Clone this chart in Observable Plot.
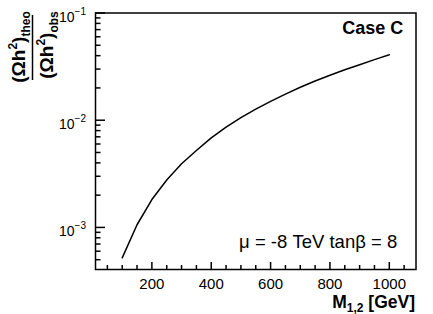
<!DOCTYPE html>
<html>
<head>
<meta charset="utf-8">
<script src="https://cdn.jsdelivr.net/npm/d3@7"></script>
<script src="https://cdn.jsdelivr.net/npm/@observablehq/plot@0.6"></script>
<style>
  html, body { margin: 0; padding: 0; background: #fff; }
  #chart svg { display: block; font-family: "Liberation Sans", Arial, Helvetica, sans-serif; }
</style>
</head>
<body>
<div id="chart"></div>
<script>
// Data
const massValues = [100, 150, 200, 250, 300, 350, 400, 450, 500, 550, 600, 650, 700, 750, 800, 850, 900, 950, 1000];
const ratioValues = [5.20e-4, 1.059e-3, 1.82e-3, 2.77e-3, 3.92e-3, 5.21e-3, 6.84e-3, 8.61e-3, 1.059e-2, 1.268e-2, 1.496e-2, 1.750e-2, 2.028e-2, 2.323e-2, 2.630e-2, 2.951e-2, 3.296e-2, 3.673e-2, 4.083e-2];

const xMajorTicks = [200, 400, 600, 800, 1000];
const xMinorTicks = [50, 100, 150, 250, 300, 350, 450, 500, 550, 650, 700, 750, 850, 900, 950, 1050];
const yExponents = [-3, -2, -1];
const yMajorTicks = yExponents.map(e => 10 ** e);
const yMinorTicks = [5e-4, 6e-4, 7e-4, 8e-4, 9e-4, 2e-3, 3e-3, 4e-3, 5e-3, 6e-3, 7e-3, 8e-3, 9e-3, 2e-2, 3e-2, 4e-2, 5e-2, 6e-2, 7e-2, 8e-2, 9e-2];

const xDomain = [10, 1090];
const yDomain = [4.05e-4, 0.1];

const caseLabel = "Case C";
const paramLabel = "μ = -8 TeV tanβ = 8";

const data = massValues.map((m, i) => ({m, r: ratioValues[i]}));

const W = 433, H = 314, mT = 12.5, mB = 45, mL = 95, mR = 17.5;
const frameW = W - mL - mR, frameH = H - mT - mB;

// tick lengths (pixels) converted to domain extents
const xPerPx = (xDomain[1] - xDomain[0]) / frameW;
const yDecPerPx = Math.log10(yDomain[1] / yDomain[0]) / frameH;
const xAt = px => xDomain[0] + px * xPerPx;
const yAt = px => yDomain[0] * 10 ** (px * yDecPerPx);

const plot = Plot.plot({
  width: W,
  height: H,
  marginTop: mT,
  marginBottom: mB,
  marginLeft: mL,
  marginRight: mR,
  style: {background: "#fff", fontFamily: "Liberation Sans, Arial, Helvetica, sans-serif"},
  x: {domain: xDomain, axis: null, label: null},
  y: {type: "log", domain: yDomain, axis: null, label: null},
  marks: [
    Plot.line(data, {x: "m", y: "r", stroke: "black", strokeWidth: 1.5}),
    Plot.frame({stroke: "black", strokeWidth: 1.5}),
    // inward ticks along the left and bottom frame edges
    Plot.ruleY(yMajorTicks, {y: d => d, x1: xDomain[0], x2: xAt(10), stroke: "black", strokeWidth: 1.5}),
    Plot.ruleY(yMinorTicks, {y: d => d, x1: xDomain[0], x2: xAt(5.5), stroke: "black", strokeWidth: 1.5}),
    Plot.ruleX(xMajorTicks, {x: d => d, y1: yDomain[0], y2: yAt(7), stroke: "black", strokeWidth: 1.5}),
    Plot.ruleX(xMinorTicks, {x: d => d, y1: yDomain[0], y2: yAt(4), stroke: "black", strokeWidth: 1.5}),
    // x tick labels
    Plot.axisX(xMajorTicks, {anchor: "bottom", tickSize: 0, tickPadding: 9, fontSize: 15, fill: "black", tickFormat: d => String(d), label: null}),
    Plot.text([caseLabel], {frameAnchor: "top-right", dx: -12.8, dy: 15.7, textAnchor: "end", lineAnchor: "middle", fontSize: 18, fontWeight: "bold", fill: "black"}),
    Plot.text([paramLabel], {frameAnchor: "bottom-right", dx: -18.8, dy: -27.6, textAnchor: "end", lineAnchor: "middle", fontSize: 18.5, fill: "black"})
  ]
});

document.getElementById("chart").appendChild(plot);

const svg = d3.select(plot);
const ys = plot.scale("y");

// y tick labels with superscripts
yExponents.forEach(e => {
  const py = ys.apply(10 ** e);
  const t = svg.append("text")
    .attr("x", 86)
    .attr("y", py + 9)
    .attr("text-anchor", "end")
    .attr("font-size", 14)
    .attr("fill", "black");
  t.append("tspan").text("10");
  t.append("tspan").attr("dy", -7).attr("font-size", 10).text("−" + Math.abs(e));
});

// x axis title
const xt = svg.append("text")
  .attr("x", 415)
  .attr("y", 308)
  .attr("text-anchor", "end")
  .attr("font-size", 17.5)
  .attr("font-weight", "bold")
  .attr("fill", "black");
xt.append("tspan").text("M");
xt.append("tspan").attr("dy", 4).attr("font-size", 12).text("1,2");
xt.append("tspan").attr("dy", -4).text(" [GeV]");

// y axis title: fraction (Ωh²)theo / (Ωh²)obs, rotated
const yt = svg.append("g").attr("font-weight", "bold").attr("fill", "black");
function fracPart(bx, cy, sub) {
  const t = yt.append("text")
    .attr("transform", `translate(${bx},${cy}) rotate(-90)`)
    .attr("text-anchor", "middle")
    .attr("font-size", 19);
  t.append("tspan").text("(Ωh");
  t.append("tspan").attr("dy", -8).attr("font-size", 12).text("2");
  t.append("tspan").attr("dy", 8).text(")");
  t.append("tspan").attr("dy", 5).attr("font-size", 12).text(sub);
}
fracPart(25, 47, "theo");
fracPart(53, 45, "obs");
yt.append("line")
  .attr("x1", 32.5).attr("x2", 32.5)
  .attr("y1", 15).attr("y2", 80)
  .attr("stroke", "black").attr("stroke-width", 1.5);
</script>
</body>
</html>
